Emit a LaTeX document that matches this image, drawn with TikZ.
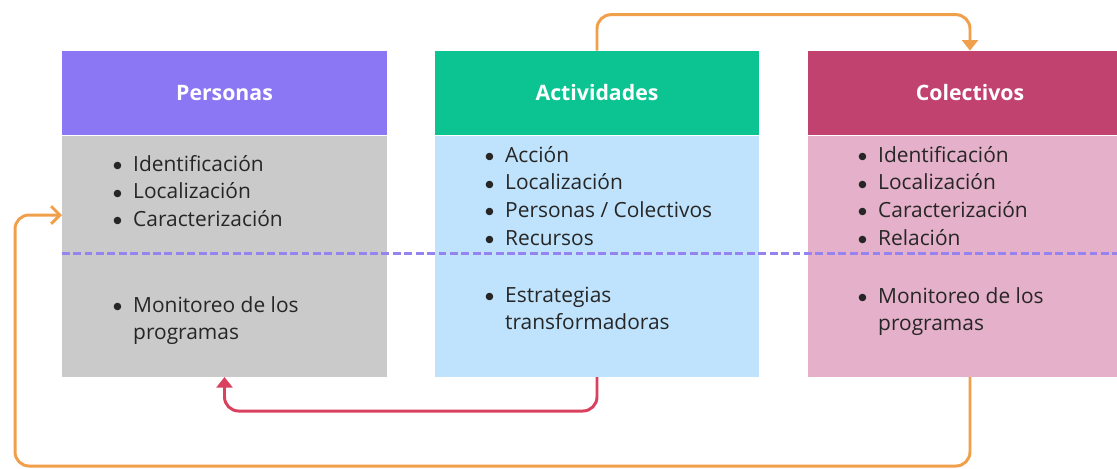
\documentclass[tikz,border=0pt]{standalone}
\usepackage{fontspec}
\setmainfont{Open Sans}
\newfontfamily\symfont{DejaVu Sans}
\usetikzlibrary{positioning,arrows.meta}

\definecolor{persHead}{HTML}{8B77F3}
\definecolor{persFill}{HTML}{CACACA}
\definecolor{actHead}{HTML}{0CC491}
\definecolor{actFill}{HTML}{BFE3FC}
\definecolor{colHead}{HTML}{C1416F}
\definecolor{colFill}{HTML}{E5B0C9}
\definecolor{flowOrange}{HTML}{F0A04B}
\definecolor{flowRed}{HTML}{D9415E}
\definecolor{sepLine}{HTML}{9683EE}

\newcommand{\dotmark}{{\symfont\fontsize{5.5}{6}\selectfont\raisebox{0.55ex}{●}}}
\newcommand{\bullist}[1]{\fontsize{11.9}{15.9}\selectfont
  \begin{tabular}[t]{@{}l@{\hspace{6.5pt}}l@{}}#1\end{tabular}}

\tikzset{
  head/.style={fill=#1, minimum width=6.5cm, minimum height=1.68cm, inner sep=0pt,
    text=white, font=\bfseries\fontsize{12.1}{14}\selectfont},
  body/.style={fill=#1, minimum width=6.5cm, minimum height=4.82cm, inner sep=0pt},
  items/.style={anchor=base west, inner sep=0pt, text=black!85},
  flow/.style={line width=1.7pt, rounded corners=8pt, -{Triangle[width=9pt,length=6pt]}}
}

\begin{document}
\begin{tikzpicture}[x=0.02cm, y=-0.02cm]
  \clip (0,0) rectangle (1117,468);

  \node[head=persHead] (persHd) at (224.5,93) {Personas};
  \node[body=persFill, below=0pt of persHd] (persBody) {};
  \node[head=actHead] (actHd) at (597,93) {Actividades};
  \node[body=actFill, below=0pt of actHd] (actBody) {};
  \node[head=colHead] (colHd) at (970,93) {Colectivos};
  \node[body=colFill, below=0pt of colHd] (colBody) {};

  \draw[sepLine, line width=1.6pt, dash pattern=on 4.5pt off 2pt]
    ([yshift=1.4pt]persBody.west) -- ([yshift=1.4pt]colBody.east);

  % contenido
  \node[items] (persTop) at (113,171) {\bullist{\dotmark & Identificación\\ \dotmark & Localización\\ \dotmark & Caracterización}};
  \node[items] (persLow) at (113,312) {\bullist{\dotmark & Monitoreo de los\\ & programas}};
  \node[items] (actTop) at (485,162) {\bullist{\dotmark & Acción\\ \dotmark & Localización\\ \dotmark & Personas / Colectivos\\ \dotmark & Recursos}};
  \node[items] (actLow) at (485,302) {\bullist{\dotmark & Estrategias\\ & transformadoras}};
  \node[items] (colTop) at (858,162) {\bullist{\dotmark & Identificación\\ \dotmark & Localización\\ \dotmark & Caracterización\\ \dotmark & Relación}};
  \node[items] (colLow) at (858,303) {\bullist{\dotmark & Monitoreo de los\\ & programas}};

  % flujos
  \coordinate (persIn) at (62,215);
  \draw[flow, flowOrange] (actHd.north) -- ++(0,-36) -| (colHd.north);
  \draw[flow, flowRed] (actBody.south) -- ++(0,34) -| (persBody.south);
  \draw[flow, flowOrange, -{Straight Barb[width=10pt,length=5pt]}] (colBody.south) -- ++(0,89) -| ([xshift=-0.94cm]persIn) -- (persIn);
\end{tikzpicture}
\end{document}
